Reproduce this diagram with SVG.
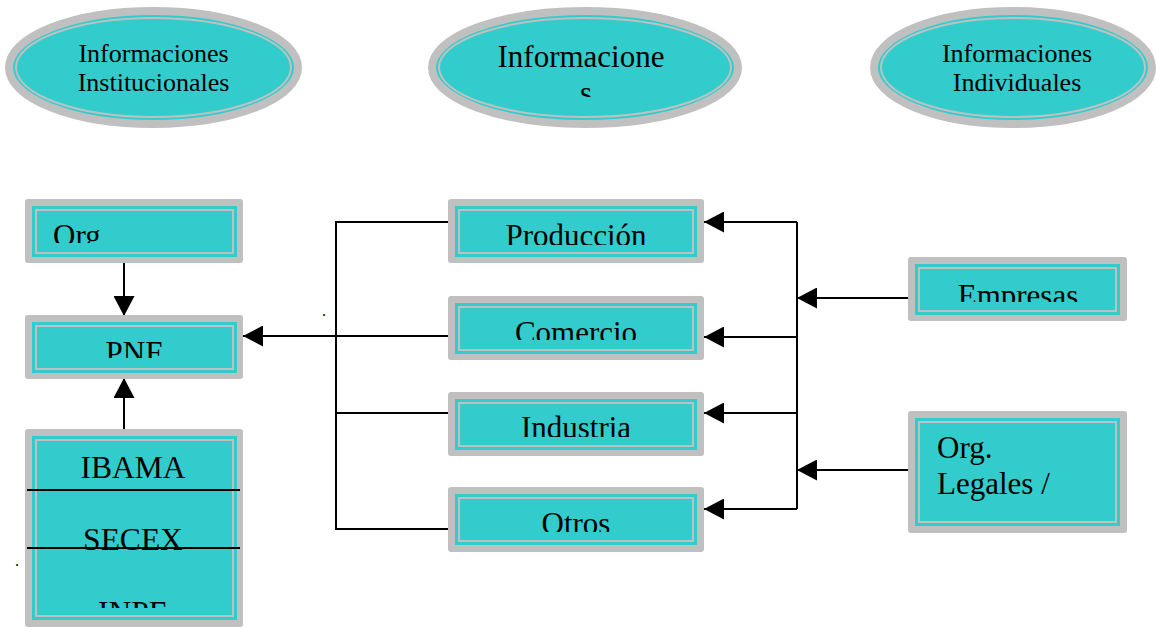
<svg xmlns="http://www.w3.org/2000/svg" width="1156" height="628" viewBox="0 0 1156 628">
<style>
.t{font-family:"Liberation Serif","Times New Roman",serif;fill:#000}
.e{fill:#33CCCC;stroke:#C0C0C0;stroke-width:8}
.el{fill:none;stroke:#C0C0C0;stroke-width:2}
.bo{fill:#C0C0C0}
.bi{fill:#33CCCC}
.bl{fill:none;stroke:#C0C0C0;stroke-width:2}
.c{fill:none;stroke:#000;stroke-width:2}
</style>
<defs>
<marker id="ah" viewBox="0 0 20 21" refX="20" refY="10.5" markerWidth="20" markerHeight="21" markerUnits="userSpaceOnUse" orient="auto">
<path d="M0,0 L20,10.5 L0,21 z" fill="#000"/>
</marker>
<clipPath id="cOrg"><rect x="32" y="206" width="205" height="37"/></clipPath>
<clipPath id="cPNF"><rect x="32" y="322" width="205" height="36"/></clipPath>
<clipPath id="cIB"><rect x="32" y="436" width="205" height="172"/></clipPath>
<clipPath id="cPro"><rect x="455" y="206" width="242" height="39"/></clipPath>
<clipPath id="cCom"><rect x="455" y="303" width="242" height="37"/></clipPath>
<clipPath id="cInd"><rect x="455" y="399" width="242" height="38"/></clipPath>
<clipPath id="cOtr"><rect x="455" y="494" width="242" height="38"/></clipPath>
<clipPath id="cEmp"><rect x="915" y="264" width="205" height="38"/></clipPath>
<clipPath id="cLeg"><rect x="915" y="418" width="205" height="95"/></clipPath>
<clipPath id="cMid"><rect x="440" y="20" width="290" height="77"/></clipPath>
</defs>

<g id="ell-institucionales">
<ellipse class="e" cx="153.5" cy="67.5" rx="144.5" ry="56.5"/>
<ellipse class="el" cx="153.5" cy="67.5" rx="137.5" ry="49.5"/>
<text class="t" font-size="26" x="153.5" y="62" text-anchor="middle">Informaciones</text>
<text class="t" font-size="26" x="153.5" y="91" text-anchor="middle">Institucionales</text>
</g>

<g id="ell-informaciones">
<ellipse class="e" cx="585" cy="67.5" rx="153" ry="56.5"/>
<ellipse class="el" cx="585" cy="67.5" rx="146" ry="49.5"/>
<g clip-path="url(#cMid)">
<text class="t" font-size="31" x="581" y="67" text-anchor="middle">Informacione</text>
<text class="t" font-size="31" x="586" y="103" text-anchor="middle">s</text>
</g>
</g>

<g id="ell-individuales">
<ellipse class="e" cx="1013" cy="67.5" rx="139" ry="56.5"/>
<ellipse class="el" cx="1013" cy="67.5" rx="132" ry="49.5"/>
<text class="t" font-size="26" x="1017" y="62" text-anchor="middle">Informaciones</text>
<text class="t" font-size="26" x="1017" y="91" text-anchor="middle">Individuales</text>
</g>

<g id="connectors">
<path class="c" d="M124,259 L124,316" marker-end="url(#ah)"/>
<path class="c" d="M124,432 L124,378" marker-end="url(#ah)"/>
<path class="c" d="M448,336 L243,336" marker-end="url(#ah)"/>
<path class="c" d="M448,222 L336,222 L336,529 L448,529"/>
<path class="c" d="M336,413 L448,413"/>
<path class="c" d="M797,222 L797,509"/>
<path class="c" d="M797,222 L704,222" marker-end="url(#ah)"/>
<path class="c" d="M797,337 L704,337" marker-end="url(#ah)"/>
<path class="c" d="M797,413 L704,413" marker-end="url(#ah)"/>
<path class="c" d="M797,509 L704,509" marker-end="url(#ah)"/>
<path class="c" d="M910,298 L797,298" marker-end="url(#ah)"/>
<path class="c" d="M910,470 L797,470" marker-end="url(#ah)"/>
</g>

<g id="node-org">
<rect class="bo" x="25" y="199" width="218" height="64" rx="3"/>
<rect class="bi" x="32" y="206" width="205" height="51"/>
<rect class="bl" x="36" y="210" width="197" height="43"/>
<text class="t" font-size="31" x="53" y="245.5" clip-path="url(#cOrg)">Org</text>
</g>

<g id="node-pnf">
<rect class="bo" x="25" y="315" width="218" height="64" rx="3"/>
<rect class="bi" x="32" y="322" width="205" height="51"/>
<rect class="bl" x="36" y="326" width="197" height="43"/>
<text class="t" font-size="31" x="134" y="362.5" text-anchor="middle" clip-path="url(#cPNF)">PNF</text>
</g>

<g id="node-ibama">
<rect class="bo" x="25" y="429" width="218" height="198" rx="3"/>
<rect class="bi" x="32" y="436" width="205" height="184"/>
<rect class="bl" x="36" y="440" width="197" height="176"/>
<g clip-path="url(#cIB)">
<text class="t" font-size="31.5" x="133" y="478" text-anchor="middle">IBAMA</text>
<text class="t" font-size="31.5" x="133" y="550" text-anchor="middle">SECEX</text>
<text class="t" font-size="31.5" x="133" y="623" text-anchor="middle">INPE</text>
</g>
<path d="M27,490 L240,490 M27,548 L240,548" stroke="#000" stroke-width="2"/>
</g>

<g id="node-produccion">
<rect class="bo" x="448" y="199" width="256" height="64" rx="3"/>
<rect class="bi" x="455" y="206" width="242" height="51"/>
<rect class="bl" x="459" y="210" width="234" height="43"/>
<text class="t" font-size="31" x="576" y="245.5" text-anchor="middle" clip-path="url(#cPro)">Producción</text>
</g>

<g id="node-comercio">
<rect class="bo" x="448" y="296" width="256" height="64" rx="3"/>
<rect class="bi" x="455" y="303" width="242" height="51"/>
<rect class="bl" x="459" y="307" width="234" height="43"/>
<text class="t" font-size="31" x="576" y="342.5" text-anchor="middle" clip-path="url(#cCom)">Comercio</text>
</g>

<g id="node-industria">
<rect class="bo" x="448" y="392" width="256" height="64" rx="3"/>
<rect class="bi" x="455" y="399" width="242" height="51"/>
<rect class="bl" x="459" y="403" width="234" height="43"/>
<text class="t" font-size="31" x="576" y="438" text-anchor="middle" clip-path="url(#cInd)">Industria</text>
</g>

<g id="node-otros">
<rect class="bo" x="448" y="487" width="256" height="65" rx="3"/>
<rect class="bi" x="455" y="494" width="242" height="51"/>
<rect class="bl" x="459" y="498" width="234" height="43"/>
<text class="t" font-size="31" x="576" y="533.5" text-anchor="middle" clip-path="url(#cOtr)">Otros</text>
</g>

<g id="node-empresas">
<rect class="bo" x="908" y="257" width="219" height="64" rx="3"/>
<rect class="bi" x="915" y="264" width="205" height="51"/>
<rect class="bl" x="919" y="268" width="197" height="43"/>
<text class="t" font-size="31" x="1018" y="305.5" text-anchor="middle" clip-path="url(#cEmp)">Empresas</text>
</g>

<g id="node-legales">
<rect class="bo" x="908" y="411" width="219" height="122" rx="3"/>
<rect class="bi" x="915" y="418" width="205" height="108"/>
<rect class="bl" x="919" y="422" width="197" height="100"/>
<g clip-path="url(#cLeg)">
<text class="t" font-size="31" x="937" y="458">Org.</text>
<text class="t" font-size="31" x="937" y="494">Legales /</text>
</g>
</g>

<text class="t" font-size="16" x="322" y="316">.</text>
<text class="t" font-size="16" x="15" y="566">.</text>
</svg>
